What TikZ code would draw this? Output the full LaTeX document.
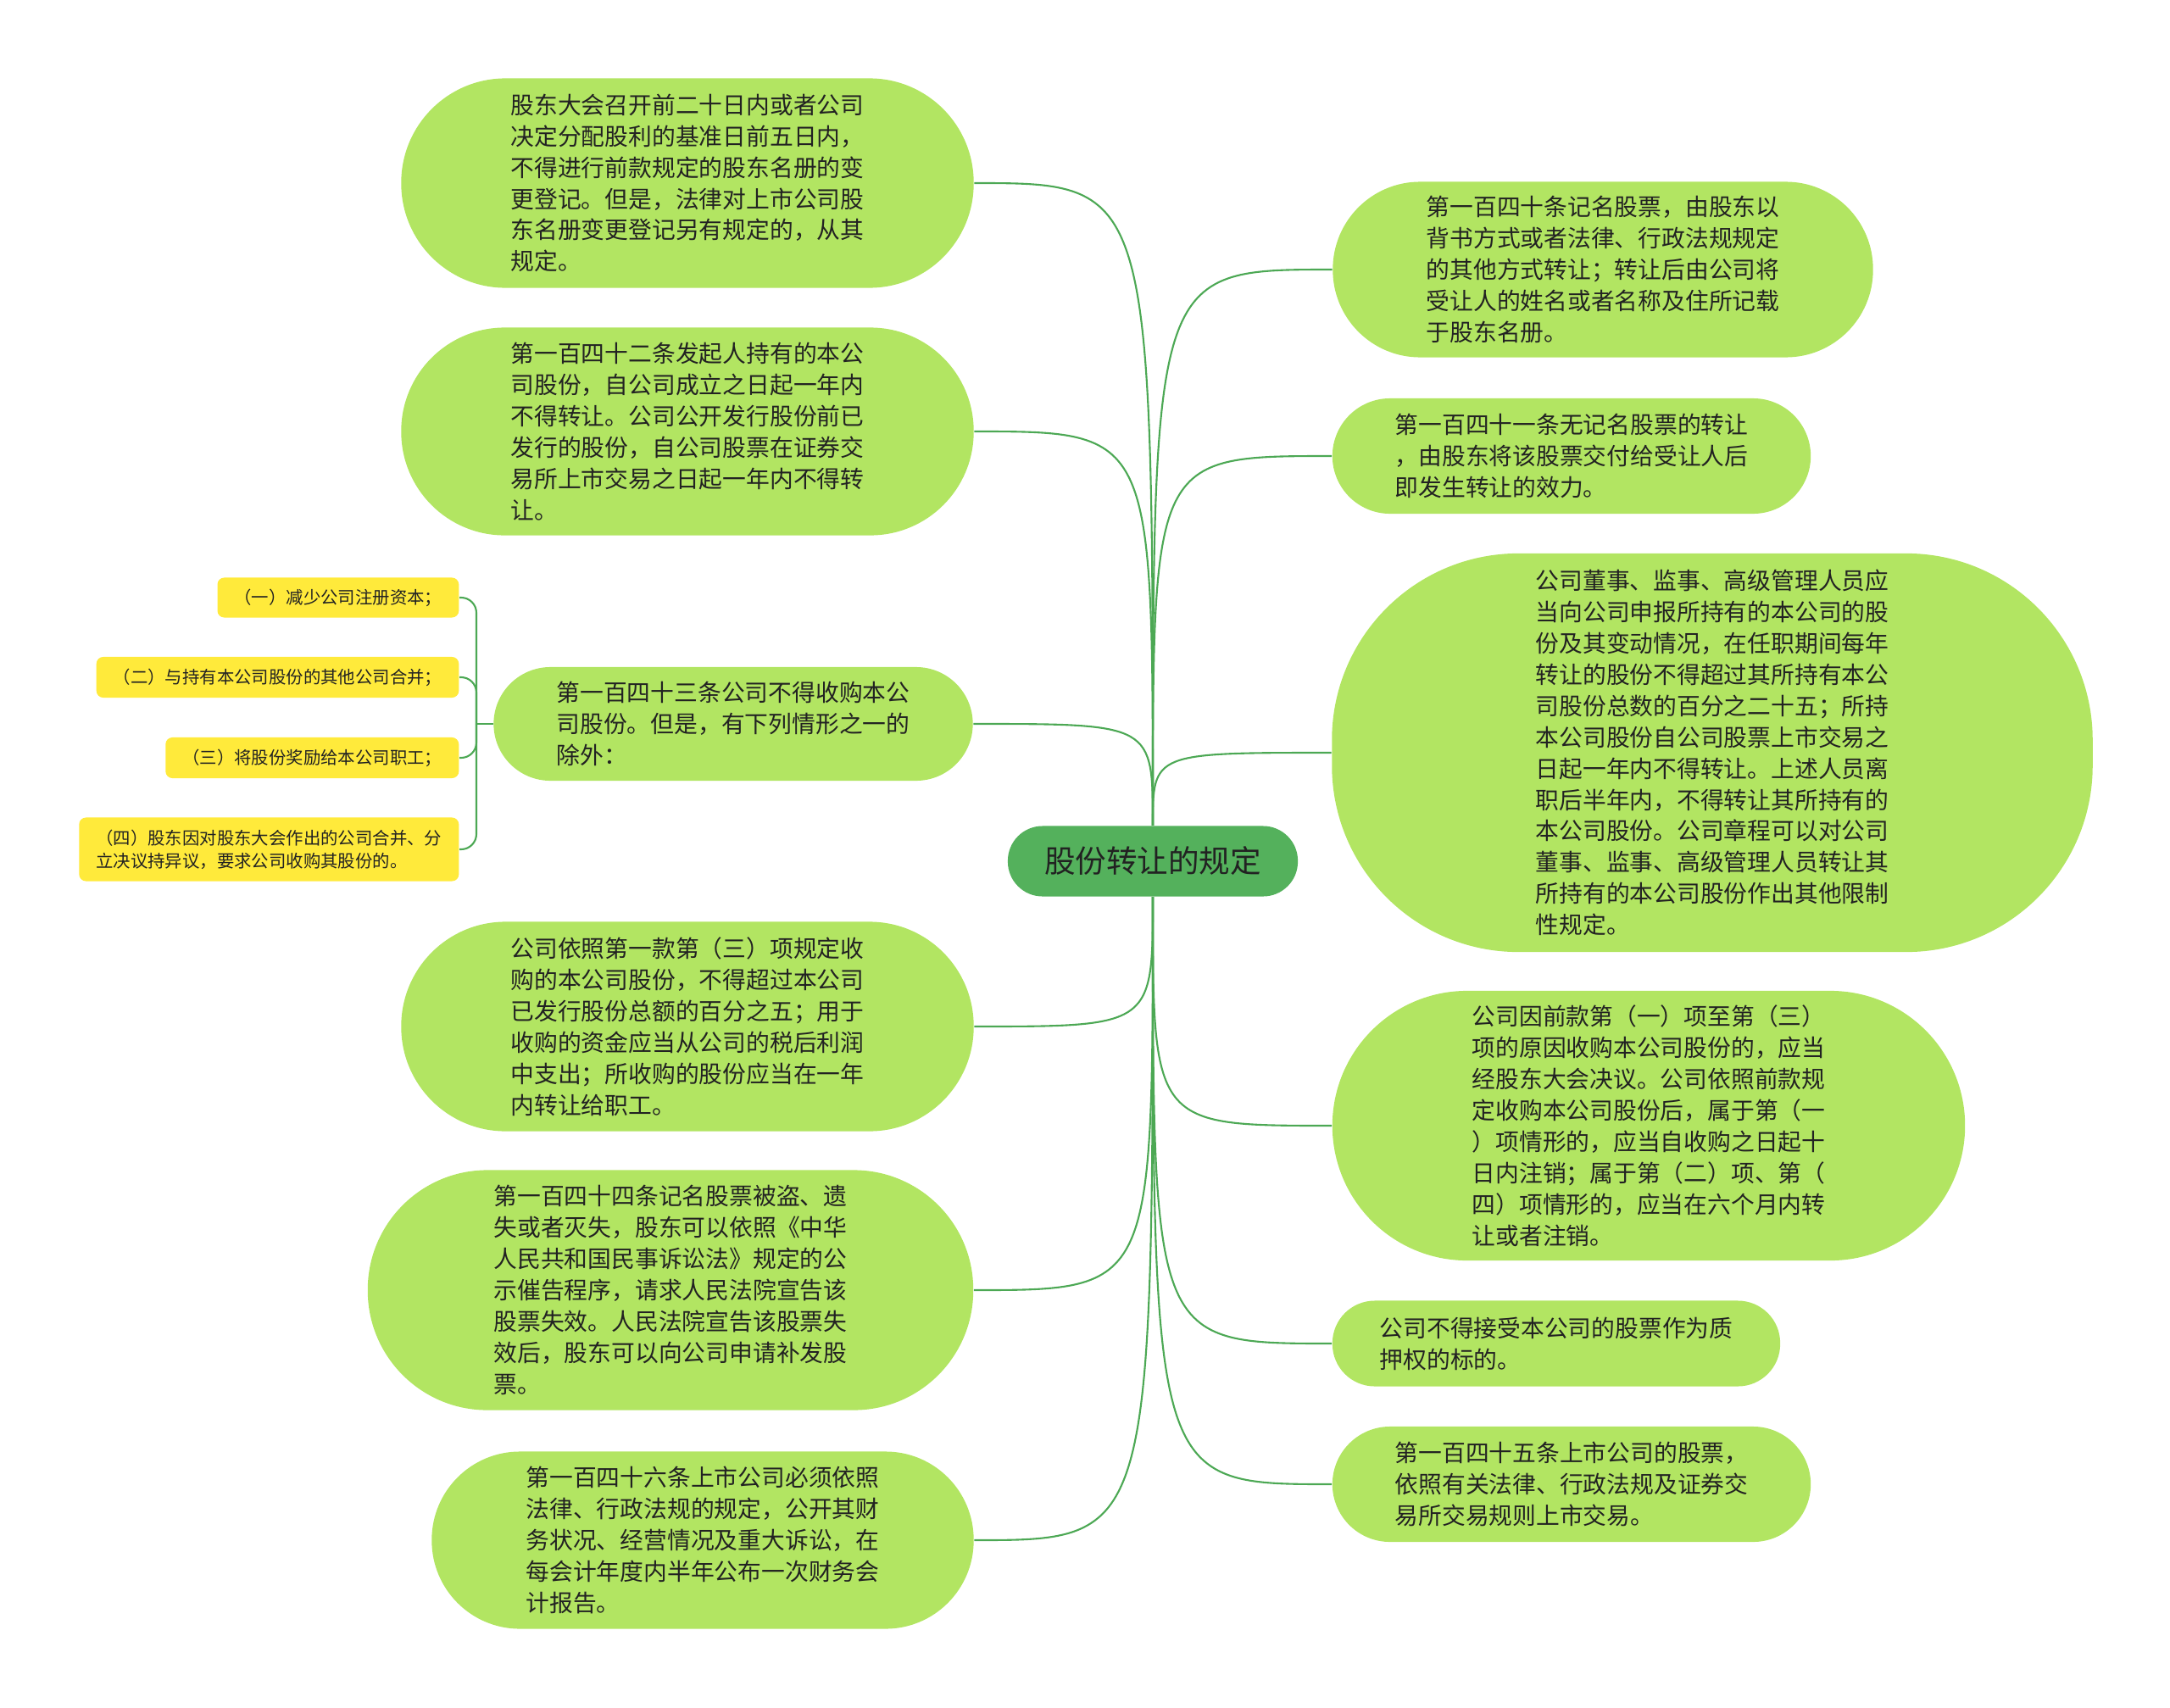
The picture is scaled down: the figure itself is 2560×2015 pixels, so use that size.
\documentclass[tikz,border=0pt]{standalone}
\usepackage{fontspec}
\newfontfamily\cjk{Noto Sans CJK SC}
\definecolor{leafgreen}{RGB}{178,229,98}
\definecolor{hubgreen}{RGB}{84,177,92}
\definecolor{linkgreen}{RGB}{76,168,84}
\definecolor{tagyellow}{RGB}{255,234,59}
\definecolor{inkdark}{RGB}{34,34,34}

\tikzset{
  leaf/.style={fill=leafgreen, text=inkdark, align=left, inner sep=0pt,
    font=\cjk\fontsize{7.9pt}{10.5pt}\selectfont},
  tag/.style={fill=tagyellow, text=inkdark, align=left, anchor=east,
    rounded corners=0.08cm, inner xsep=0.2cm, inner ysep=0pt,
    font=\cjk\fontsize{5.8pt}{7.6pt}\selectfont},
  link/.style={draw=linkgreen, line width=0.6pt},
}

\begin{document}
\begin{tikzpicture}[x=0.01cm, y=-0.01cm]
    \useasboundingbox (0,0) rectangle (2560,2015);

    \node[fill=hubgreen, text=inkdark, rounded corners=0.41cm, minimum width=3.42cm, minimum height=0.83cm,
      font=\cjk\fontsize{10.4pt}{12pt}\selectfont] (hub) at (1360,1016) {股份转让的规定};

    % left branch
    \node[leaf, minimum width=6.75cm, minimum height=2.47cm, rounded corners=1.23cm] (l1) at (811,216)
      {股东大会召开前二十日内或者公司\\决定分配股利的基准日前五日内，\\不得进行前款规定的股东名册的变\\更登记。但是，法律对上市公司股\\东名册变更登记另有规定的，从其\\规定。};
    \node[leaf, minimum width=6.75cm, minimum height=2.45cm, rounded corners=1.22cm] (l2) at (811,509)
      {第一百四十二条发起人持有的本公\\司股份，自公司成立之日起一年内\\不得转让。公司公开发行股份前已\\发行的股份，自公司股票在证券交\\易所上市交易之日起一年内不得转\\让。};
    \node[leaf, minimum width=5.65cm, minimum height=1.34cm, rounded corners=0.67cm] (l3) at (865,854)
      {第一百四十三条公司不得收购本公\\司股份。但是，有下列情形之一的\\除外：};
    \node[leaf, minimum width=6.75cm, minimum height=2.47cm, rounded corners=1.23cm] (l4) at (811,1211)
      {公司依照第一款第（三）项规定收\\购的本公司股份，不得超过本公司\\已发行股份总额的百分之五；用于\\收购的资金应当从公司的税后利润\\中支出；所收购的股份应当在一年\\内转让给职工。};
    \node[leaf, minimum width=7.14cm, minimum height=2.83cm, rounded corners=1.41cm] (l5) at (791,1522)
      {第一百四十四条记名股票被盗、遗\\失或者灭失，股东可以依照《中华\\人民共和国民事诉讼法》规定的公\\示催告程序，请求人民法院宣告该\\股票失效。人民法院宣告该股票失\\效后，股东可以向公司申请补发股\\票。};
    \node[leaf, minimum width=6.39cm, minimum height=2.09cm, rounded corners=1.04cm] (l6) at (829,1817)
      {第一百四十六条上市公司必须依照\\法律、行政法规的规定，公开其财\\务状况、经营情况及重大诉讼，在\\每会计年度内半年公布一次财务会\\计报告。};

    % exceptions under l3
    \node[tag, minimum height=0.47cm] (y1) at (542,705) {（一）减少公司注册资本；};
    \node[tag, minimum height=0.48cm] (y2) at (542,799) {（二）与持有本公司股份的其他公司合并；};
    \node[tag, minimum height=0.48cm] (y3) at (542,894) {（三）将股份奖励给本公司职工；};
    \node[tag, minimum height=0.75cm] (y4) at (542,1002) {（四）股东因对股东大会作出的公司合并、分\\立决议持异议，要求公司收购其股份的。};

    % right branch
    \node[leaf, minimum width=6.37cm, minimum height=2.07cm, rounded corners=1.03cm] (r1) at (1891,318)
      {第一百四十条记名股票，由股东以\\背书方式或者法律、行政法规规定\\的其他方式转让；转让后由公司将\\受让人的姓名或者名称及住所记载\\于股东名册。};
    \node[leaf, minimum width=5.64cm, minimum height=1.36cm, rounded corners=0.68cm] (r2) at (1854,538)
      {第一百四十一条无记名股票的转让\\，由股东将该股票交付给受让人后\\即发生转让的效力。};
    \node[leaf, minimum width=8.97cm, minimum height=4.70cm, rounded corners=2.2cm] (r3) at (2020,888)
      {公司董事、监事、高级管理人员应\\当向公司申报所持有的本公司的股\\份及其变动情况，在任职期间每年\\转让的股份不得超过其所持有本公\\司股份总数的百分之二十五；所持\\本公司股份自公司股票上市交易之\\日起一年内不得转让。上述人员离\\职后半年内，不得转让其所持有的\\本公司股份。公司章程可以对公司\\董事、监事、高级管理人员转让其\\所持有的本公司股份作出其他限制\\性规定。};
    \node[leaf, minimum width=7.46cm, minimum height=3.18cm, rounded corners=1.59cm] (r4) at (1945,1328)
      {公司因前款第（一）项至第（三）\\项的原因收购本公司股份的，应当\\经股东大会决议。公司依照前款规\\定收购本公司股份后，属于第（一\\）项情形的，应当自收购之日起十\\日内注销；属于第（二）项、第（\\四）项情形的，应当在六个月内转\\让或者注销。};
    \node[leaf, minimum width=5.28cm, minimum height=1.01cm, rounded corners=0.5cm] (r5) at (1836,1585)
      {公司不得接受本公司的股票作为质\\押权的标的。};
    \node[leaf, minimum width=5.64cm, minimum height=1.36cm, rounded corners=0.68cm] (r6) at (1854,1751)
      {第一百四十五条上市公司的股票，\\依照有关法律、行政法规及证券交\\易所交易规则上市交易。};

    % connectors
    \foreach \n in {l1,l2,l3}
      \draw[link] (hub.north) .. controls (hub.north |- \n.east) .. (\n.east);
    \foreach \n in {l4,l5,l6}
      \draw[link] (hub.south) .. controls (hub.south |- \n.east) .. (\n.east);
    \foreach \n in {r1,r2,r3}
      \draw[link] (hub.north) .. controls (hub.north |- \n.west) .. (\n.west);
    \foreach \n in {r4,r5,r6}
      \draw[link] (hub.south) .. controls (hub.south |- \n.west) .. (\n.west);

    \coordinate (fork) at (562,854);
    \draw[link] (l3.west) -- (fork);
    \foreach \n in {y1,y2,y3,y4}
      \draw[link, rounded corners=0.18cm] (fork) |- (\n.east);
\end{tikzpicture}
\end{document}
